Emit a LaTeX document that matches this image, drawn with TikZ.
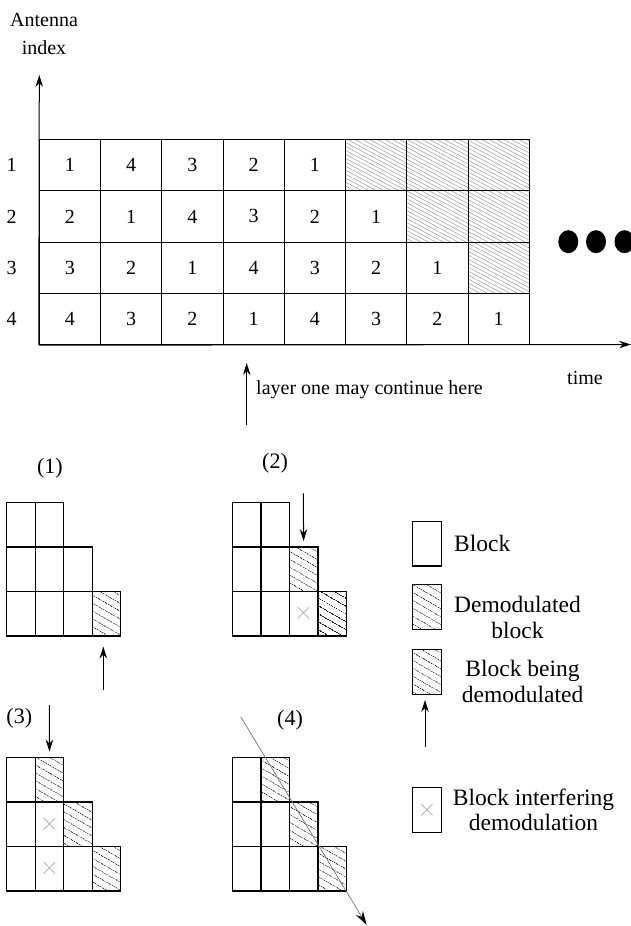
\documentclass[tikz,border=0pt]{standalone}
\usepackage{fontspec}
\setmainfont{Liberation Serif}
\usetikzlibrary{arrows.meta,positioning,patterns.meta}

\tikzset{
  cell/.style={draw,line width=1pt,minimum width=61.25pt,minimum height=51.3pt,inner sep=0pt,font=\fontsize{20}{24}\selectfont},
  donecell/.style={cell,pattern={Lines[angle=-28,distance=3.5pt,line width=0.6pt]},pattern color=gray!70},
  blk/.style={draw,line width=1.4pt,minimum width=28.5pt,minimum height=44.5pt,inner sep=0pt},
  hatched/.style={blk,pattern={Lines[angle=-30,distance=6.5pt,line width=0.6pt]},pattern color=black!85},
  cross/.style={blk,font=\fontsize{24}{24}\selectfont,text=gray!60},
  pointer/.style={-{Stealth[length=12pt,width=7.5pt]},line width=1pt},
  lbl/.style={font=\fontsize{20}{28}\selectfont,inner sep=0pt},
  steplbl/.style={font=\fontsize{22}{24}\selectfont,inner sep=0pt},
  leg/.style={font=\fontsize{23.5}{25.5}\selectfont,align=center,inner sep=0pt},
}

\begin{document}
\begin{tikzpicture}[x=1pt,y=-1pt]
  \useasboundingbox (0,0) rectangle (631,926);
  % Antenna/time grid
  \foreach \r in {1,...,4} {
    \node[lbl] (row\r) at (11.7,{139.5+51.3*(\r-0.5)}) {\r};
    \foreach \c in {1,...,8} {
      \pgfmathtruncatemacro{\v}{mod(\r-\c+8,4)+1}
      \ifnum\c>\numexpr\r+4\relax
        \node[donecell] (m\r\c) at ({39.3+61.25*(\c-0.5)},{139.5+51.3*(\r-0.5)}) {};
      \else
        \node[cell] (m\r\c) at ({39.3+61.25*(\c-0.5)},{139.5+51.3*(\r-0.5)}) {\v};
      \fi
    }
  }
  % Axes
  \coordinate (ytip) at (39.3,75);
  \coordinate (xtip) at (631,344.5);
  \draw[pointer] (m41.south west) -- (ytip);
  \draw[pointer] (m41.south west) -- (xtip);
  \node[lbl,align=center] (antenna) at (44,34) {Antenna\\index};
  \node[lbl] (time) at (585,378) {time};
  % More to come
  \fill (568.3,241.7) ellipse [x radius=10pt,y radius=11.5pt];
  \fill (596,241.7) ellipse [x radius=10pt,y radius=11.5pt];
  \fill (624.5,241.7) ellipse [x radius=10pt,y radius=11.5pt];
  % Layer one arrow
  \coordinate (lay0) at (246.7,425);
  \coordinate (lay1) at (246.7,363);
  \draw[pointer] (lay0) -- (lay1);
  \node[lbl,anchor=west] (laytxt) at (256,390) {layer one may continue here};
  % Step diagrams (1)-(4)
  \foreach \dx/\dy/\s in {6.7/502.3/a,232.3/502.3/b,6.7/757.3/c,232.3/757.3/d}
    \foreach \r/\n in {1/2,2/3,3/4}
      \foreach \c in {1,...,\n}
        \node[blk] (\s\r\c) at ({\dx+28.5*(\c-0.5)},{\dy+44.5*(\r-0.5)}) {};
  % Step (1)
  \node[steplbl] (lab1) at (50,468) {(1)};
  \node[hatched] (a34h) at (a34) {};
  \coordinate (p1) at (103.3,690);
  \draw[pointer] (p1) -- ([yshift=-10pt]p1 |- a34.south);
  % Step (2)
  \node[steplbl] (lab2) at (275,463.3) {(2)};
  \node[hatched] (b23h) at (b23) {};
  \node[hatched] (b34h) at (b34) {};
  \node[cross] (b33x) at (b33) {$\times$};
  \coordinate (p2) at (303.4,493.3);
  \draw[pointer] (p2) -- ([yshift=5pt]b23.north);
  % Step (3)
  \node[steplbl] (lab3) at (19.3,718.3) {(3)};
  \node[hatched] (c12h) at (c12) {};
  \node[hatched] (c23h) at (c23) {};
  \node[hatched] (c34h) at (c34) {};
  \node[cross] (c22x) at (c22) {$\times$};
  \node[cross] (c32x) at (c32) {$\times$};
  \coordinate (p3) at (49.4,705);
  \draw[pointer] (p3) -- ([yshift=5pt]c12.north);
  % Step (4)
  \node[steplbl] (lab4) at (290,720) {(4)};
  \node[hatched] (d12h) at (d12) {};
  \node[hatched] (d23h) at (d23) {};
  \node[hatched] (d34h) at (d34) {};
  \coordinate (p4a) at (240.7,716.7);
  \coordinate (p4b) at (366.7,925);
  \draw[-{Stealth[length=14pt,width=8pt,black]},gray,line width=0.8pt] (p4a) -- (p4b);
  % Legend
  \node[blk] (legblk) at (427,543.8) {};
  \node[leg,right=12pt of legblk] (legblktxt) {Block};
  \node[hatched] (legdone) at (427,607) {};
  \node[leg,anchor=west] (legdonetxt) at (454,617.5) {Demodulated\\block};
  \node[hatched] (legcur) at (427,672) {};
  \node[leg,anchor=west] (legcurtxt) at (461.7,681.7) {Block being\\demodulated};
  \coordinate (legarr) at (425,746.7);
  \draw[pointer] (legarr) -- ([yshift=-5pt]legcur.south -| legarr);
  \node[cross] (legx) at (427,810) {$\times$};
  \node[leg,anchor=west] (legxtxt) at (452.7,810) {Block interfering\\demodulation};
\end{tikzpicture}
\end{document}
